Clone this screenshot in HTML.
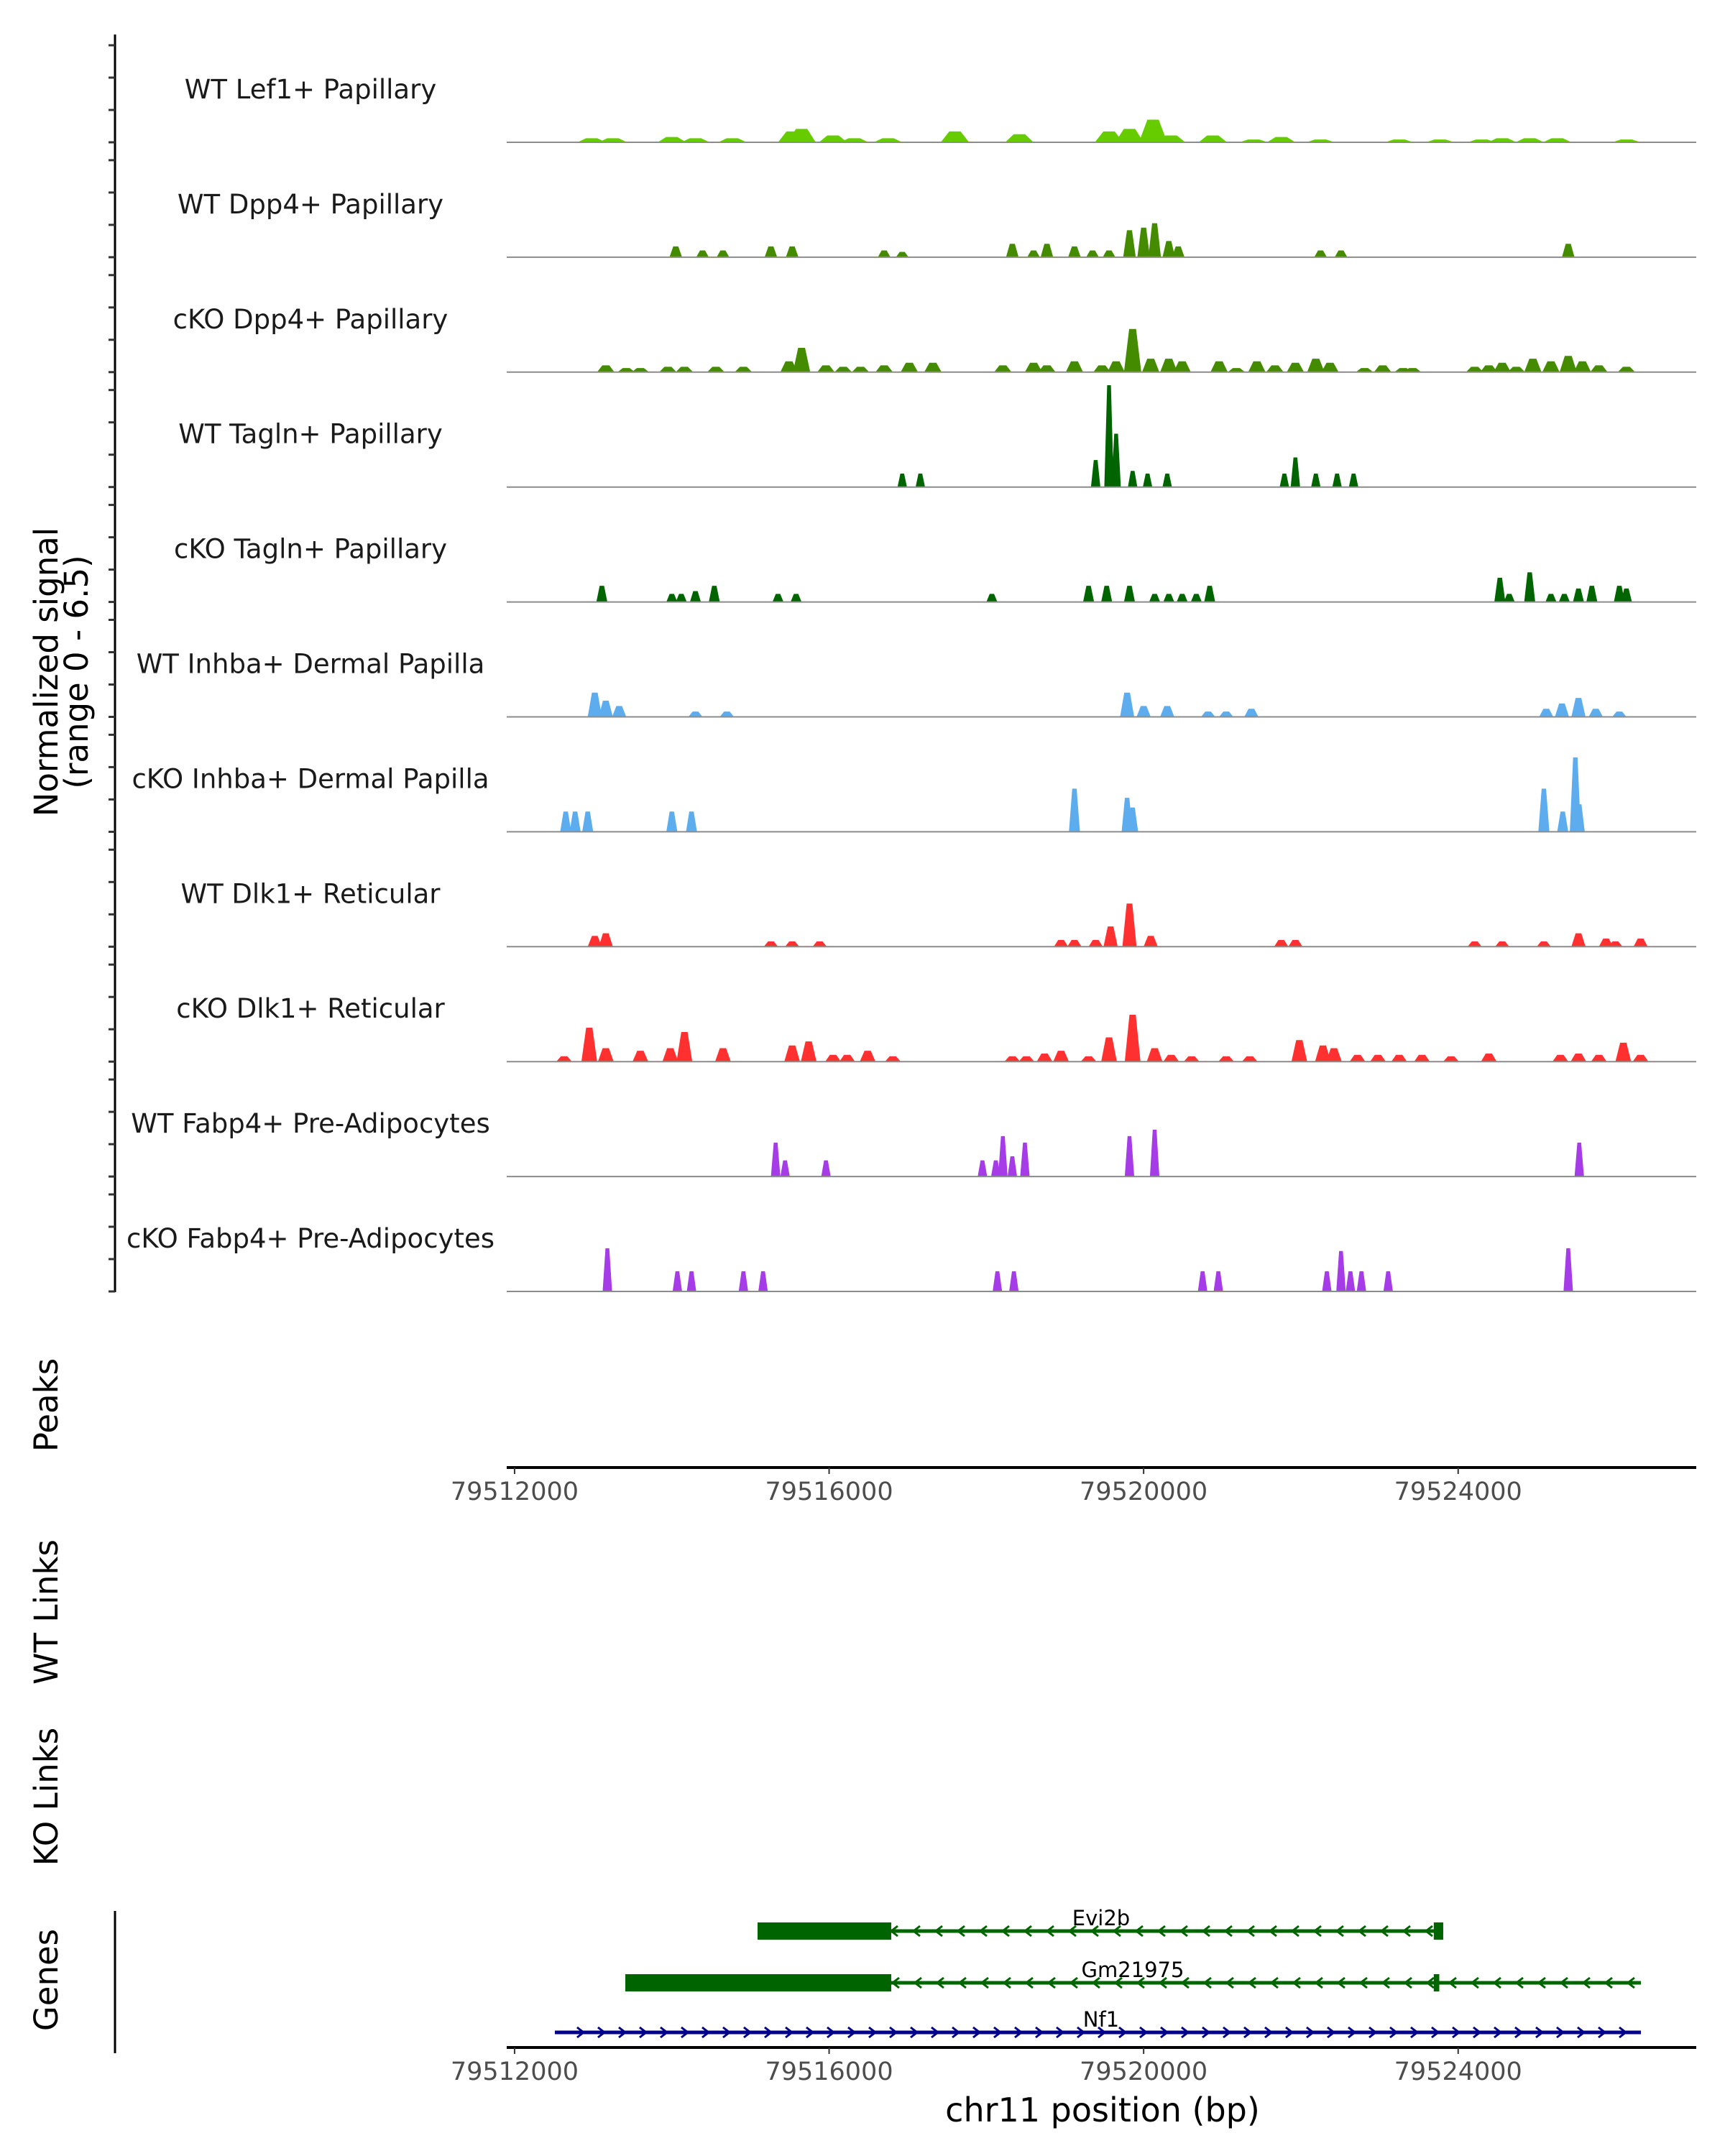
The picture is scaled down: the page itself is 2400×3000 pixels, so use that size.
<!DOCTYPE html>
<html><head><meta charset="utf-8"><style>
html,body{margin:0;padding:0;background:#fff;}
svg{display:block;font-family:"DejaVu Sans","Liberation Sans",sans-serif;}
</style></head><body>
<svg id="chart" width="2400" height="3000" viewBox="0 0 2400 3000" xmlns="http://www.w3.org/2000/svg">
<g id="tracks"></g>
<g id="leftaxis"></g>
<text transform="translate(80,935) rotate(-90)" text-anchor="middle" font-size="45" fill="#000">Normalized signal</text>
<text transform="translate(122,935) rotate(-90)" text-anchor="middle" font-size="45" fill="#000">(range 0 - 6.5)</text>
<text transform="translate(80,1955) rotate(-90)" text-anchor="middle" font-size="45">Peaks</text>
<text transform="translate(80,2243) rotate(-90)" text-anchor="middle" font-size="45">WT Links</text>
<text transform="translate(80,2500) rotate(-90)" text-anchor="middle" font-size="45">KO Links</text>
<text transform="translate(80,2755) rotate(-90)" text-anchor="middle" font-size="45">Genes</text>
<line x1="160" y1="2659" x2="160" y2="2857" stroke="#000" stroke-width="3"/>
<g id="axis1"></g>
<g id="genes"></g>
<g id="axis2"></g>
<text x="1534" y="2952" text-anchor="middle" font-size="46">chr11 position (bp)</text>
</svg>
<script>
// positions in kb offset from 79512000; values = normalized signal
const trackNames = ["WT Lef1+ Papillary","WT Dpp4+ Papillary","cKO Dpp4+ Papillary","WT Tagln+ Papillary","cKO Tagln+ Papillary","WT Inhba+ Dermal Papilla","cKO Inhba+ Dermal Papilla","WT Dlk1+ Reticular","cKO Dlk1+ Reticular","WT Fabp4+ Pre-Adipocytes","cKO Fabp4+ Pre-Adipocytes"];
const trackColors = ["#66cc00","#458b00","#458b00","#006400","#006400","#5cacee","#5cacee","#ff3030","#ff3030","#a63be8","#a63be8"];
const pos0 = [0.98,1.25,2.0,2.3,2.77,3.53,3.65,4.05,4.32,4.75,5.6,6.42,7.56,7.82,8.12,8.35,8.88,9.4,9.75,10.25,11.25,11.77,12.3,12.56,12.91,13.26,14.14];
const val0 = [0.25,0.25,0.33,0.25,0.25,0.67,0.83,0.42,0.25,0.25,0.67,0.5,0.67,0.83,1.4,0.42,0.42,0.17,0.33,0.17,0.17,0.17,0.17,0.25,0.25,0.25,0.17];
const pos1 = [2.05,2.39,2.65,3.26,3.53,4.7,4.93,6.33,6.6,6.77,7.12,7.35,7.56,7.82,8.0,8.14,8.32,8.44,10.25,10.51,13.4];
const val1 = [0.67,0.42,0.42,0.67,0.67,0.42,0.33,0.83,0.42,0.83,0.67,0.42,0.42,1.67,1.83,2.1,1.0,0.67,0.42,0.42,0.83];
const pos2 = [1.16,1.42,1.6,1.95,2.16,2.56,2.91,3.49,3.65,3.96,4.18,4.4,4.7,5.02,5.32,6.21,6.6,6.77,7.12,7.47,7.65,7.86,8.09,8.32,8.49,8.96,9.18,9.44,9.67,9.93,10.19,10.37,10.81,11.04,11.3,11.42,12.21,12.39,12.56,12.74,12.95,13.18,13.4,13.58,13.79,14.14];
const val2 = [0.42,0.25,0.25,0.33,0.33,0.33,0.33,0.67,1.5,0.42,0.33,0.33,0.42,0.58,0.58,0.42,0.58,0.42,0.67,0.42,0.67,2.67,0.83,0.83,0.67,0.67,0.25,0.67,0.42,0.58,0.83,0.58,0.25,0.42,0.25,0.25,0.33,0.42,0.58,0.33,0.83,0.67,1.0,0.67,0.42,0.33];
const pos3 = [4.93,5.16,7.39,7.56,7.65,7.86,8.05,8.3,9.79,9.93,10.19,10.46,10.67];
const val3 = [0.83,0.83,1.67,6.3,3.3,1.0,0.83,0.83,0.83,1.83,0.83,0.83,0.83];
const pos4 = [1.11,2.0,2.12,2.3,2.54,3.35,3.58,6.07,7.3,7.53,7.82,8.14,8.32,8.49,8.67,8.84,12.53,12.65,12.91,13.18,13.35,13.53,13.7,14.05,14.14];
const val4 = [1.0,0.5,0.5,0.67,1.0,0.5,0.5,0.5,1.0,1.0,1.0,0.5,0.5,0.5,0.5,1.0,1.5,0.5,1.83,0.5,0.5,0.83,1.0,1.0,0.83];
const pos5 = [1.02,1.16,1.33,2.3,2.7,7.79,8.0,8.3,8.82,9.05,9.37,13.12,13.32,13.53,13.75,14.05];
const val5 = [1.5,1.0,0.67,0.33,0.33,1.5,0.67,0.67,0.33,0.33,0.5,0.5,0.83,1.17,0.5,0.33];
const pos6 = [0.65,0.77,0.93,2.0,2.25,7.12,7.79,7.86,13.09,13.33,13.49,13.54];
const val6 = [1.25,1.25,1.25,1.25,1.25,2.67,2.1,1.5,2.67,1.25,4.6,1.7];
const pos7 = [1.02,1.16,3.26,3.53,3.88,6.95,7.12,7.39,7.58,7.82,8.09,9.75,9.93,12.21,12.56,13.09,13.53,13.88,14.0,14.32];
const val7 = [0.67,0.83,0.33,0.33,0.33,0.42,0.42,0.42,1.25,2.67,0.67,0.42,0.42,0.33,0.33,0.33,0.83,0.5,0.33,0.5];
const pos8 = [0.63,0.95,1.16,1.6,1.98,2.16,2.65,3.53,3.74,4.05,4.23,4.49,4.81,6.33,6.51,6.74,6.95,7.3,7.56,7.86,8.14,8.35,8.61,9.05,9.35,9.98,10.28,10.42,10.72,10.98,11.25,11.54,11.91,12.39,13.3,13.53,13.79,14.1,14.32];
const val8 = [0.33,2.1,0.83,0.67,0.83,1.83,0.83,1.0,1.25,0.42,0.42,0.67,0.33,0.33,0.33,0.5,0.67,0.33,1.5,2.9,0.83,0.42,0.33,0.33,0.33,1.33,1.0,0.83,0.42,0.42,0.42,0.42,0.33,0.5,0.42,0.5,0.42,1.17,0.42];
const pos9 = [3.32,3.44,3.96,5.95,6.12,6.21,6.33,6.49,7.82,8.14,13.54];
const val9 = [2.1,1.0,1.0,1.0,1.0,2.5,1.25,2.1,2.5,2.9,2.1];
const pos10 = [1.18,2.07,2.25,2.91,3.16,6.14,6.35,8.75,8.95,10.33,10.51,10.63,10.77,11.11,13.4];
const val10 = [2.67,1.25,1.25,1.25,1.25,1.25,1.25,1.25,1.25,1.25,2.5,1.25,1.25,1.25,2.67];
const allPos = [pos0,pos1,pos2,pos3,pos4,pos5,pos6,pos7,pos8,pos9,pos10];
const allVal = [val0,val1,val2,val3,val4,val5,val6,val7,val8,val9,val10];
const tickValues = [79512000,79516000,79520000,79524000];
const geneNames = ["Evi2b","Gm21975","Nf1"];
const geneStarts = [79515090,79513408,79512512];
const geneEnds = [79523810,79526324,79526324];
const geneThickEnds = [79516790,79516790,79512512];
const geneExon2 = [79523690,79523690,null];
const geneStrands = [-1,-1,1];
const geneColors = ["#006400","#006400","#00008b"];

const NS="http://www.w3.org/2000/svg";
const X0=705, X1=2360, BP0=79511900, PXPERBP=0.1094;
const xs = bp => X0 + (bp-BP0)*PXPERBP;
const xk = kb => xs(79512000 + kb*1000);
const BASE0=198, STEP=159.9, UNIT=22.5;
const ys = (i,v) => BASE0 + i*STEP - v*UNIT;
function mk(tag, attrs, parent){const e=document.createElementNS(NS,tag);for(const k in attrs)e.setAttribute(k,attrs[k]);parent.appendChild(e);return e;}
const tracks=document.getElementById('tracks');
const hws=[0.18,0.08,0.11,0.06,0.07,0.09,0.07,0.09,0.1,0.06,0.06];
trackNames.forEach((name,i)=>{
  const g=mk('g',{},tracks);
  
  
  const base=ys(i,0);
  const t=mk('text',{x:432,y:base-61,'text-anchor':'middle','font-size':37,fill:'#1a1a1a'},g);
  t.textContent=name;
  
  
  const hw=hws[i];
  allPos[i].forEach((p,j)=>{
    const v=allVal[i][j];
    const pts=[[xk(p-hw),base],[xk(p-hw*0.4),ys(i,v)],[xk(p+hw*0.4),ys(i,v)],[xk(p+hw),base]].map(a=>a.join(',')).join(' ');
    const pk=mk('polygon',{points:pts,fill:trackColors[i]},g);
    
    
  });
  const bl=mk('line',{x1:X0,x2:X1,y1:base,y2:base,stroke:'#8c8c8c','stroke-width':2},g);
  
  
});
const la=document.getElementById('leftaxis');
mk('line',{x1:160,y1:48,x2:160,y2:1798,stroke:'#000','stroke-width':3},la);
for(let i=0;i<11;i++){for(let k=0;k<4;k++){const y=ys(i,k*2);mk('line',{x1:151,x2:160,y1:y,y2:y,stroke:'#333','stroke-width':3},la);}}
function axis(id,y){
  const a=document.getElementById(id);
  mk('line',{x1:X0,x2:X1,y1:y,y2:y,stroke:'#000','stroke-width':4},a);
  tickValues.forEach(v=>{
    const x=xs(v);
    mk('line',{x1:x,x2:x,y1:y,y2:y+9,stroke:'#333','stroke-width':2},a);
    const t=mk('text',{x:x,y:y+45,'text-anchor':'middle','font-size':35,fill:'#4d4d4d'},a);
    t.textContent=v;
    
    
  });
}
axis('axis1',2042);
axis('axis2',2849);
const gg=document.getElementById('genes');
const geneY=[2687,2759,2828];
geneNames.forEach((n,i)=>{
  const g=mk('g',{},gg);
  
  
  const y=geneY[i], c=geneColors[i];
  const x1=xs(geneStarts[i]), x2=xs(geneEnds[i]);
  mk('line',{x1:x1,x2:x2,y1:y,y2:y,stroke:c,'stroke-width':5},g);
  for(let x=x1+35;x<x2-8;x+=(geneStrands[i]<0?31:29)){
    const d=geneStrands[i]<0?`M${x+5},${y-7} L${x-4},${y} L${x+5},${y+7}`:`M${x-4},${y-7} L${x+5},${y} L${x-4},${y+7}`;
    mk('path',{d:d,fill:'none',stroke:c,'stroke-width':3},g);
  }
  if(geneThickEnds[i]!==geneStarts[i]) mk('rect',{x:x1,y:y-12,width:xs(geneThickEnds[i])-x1,height:24,fill:c},g);
  if(geneExon2[i]) mk('rect',{x:xs(geneExon2[i]),y:y-12,width:xs(i===1?79523760:geneEnds[i])-xs(geneExon2[i]),height:24,fill:c},g);
  const t=mk('text',{x:xs(geneStarts[i])+ (i===0?478:i===1?706:760),y:y-8,'text-anchor':'middle','font-size':29,fill:'#000'},g);
  t.textContent=n;
  
  
});
</script>
</body></html>
